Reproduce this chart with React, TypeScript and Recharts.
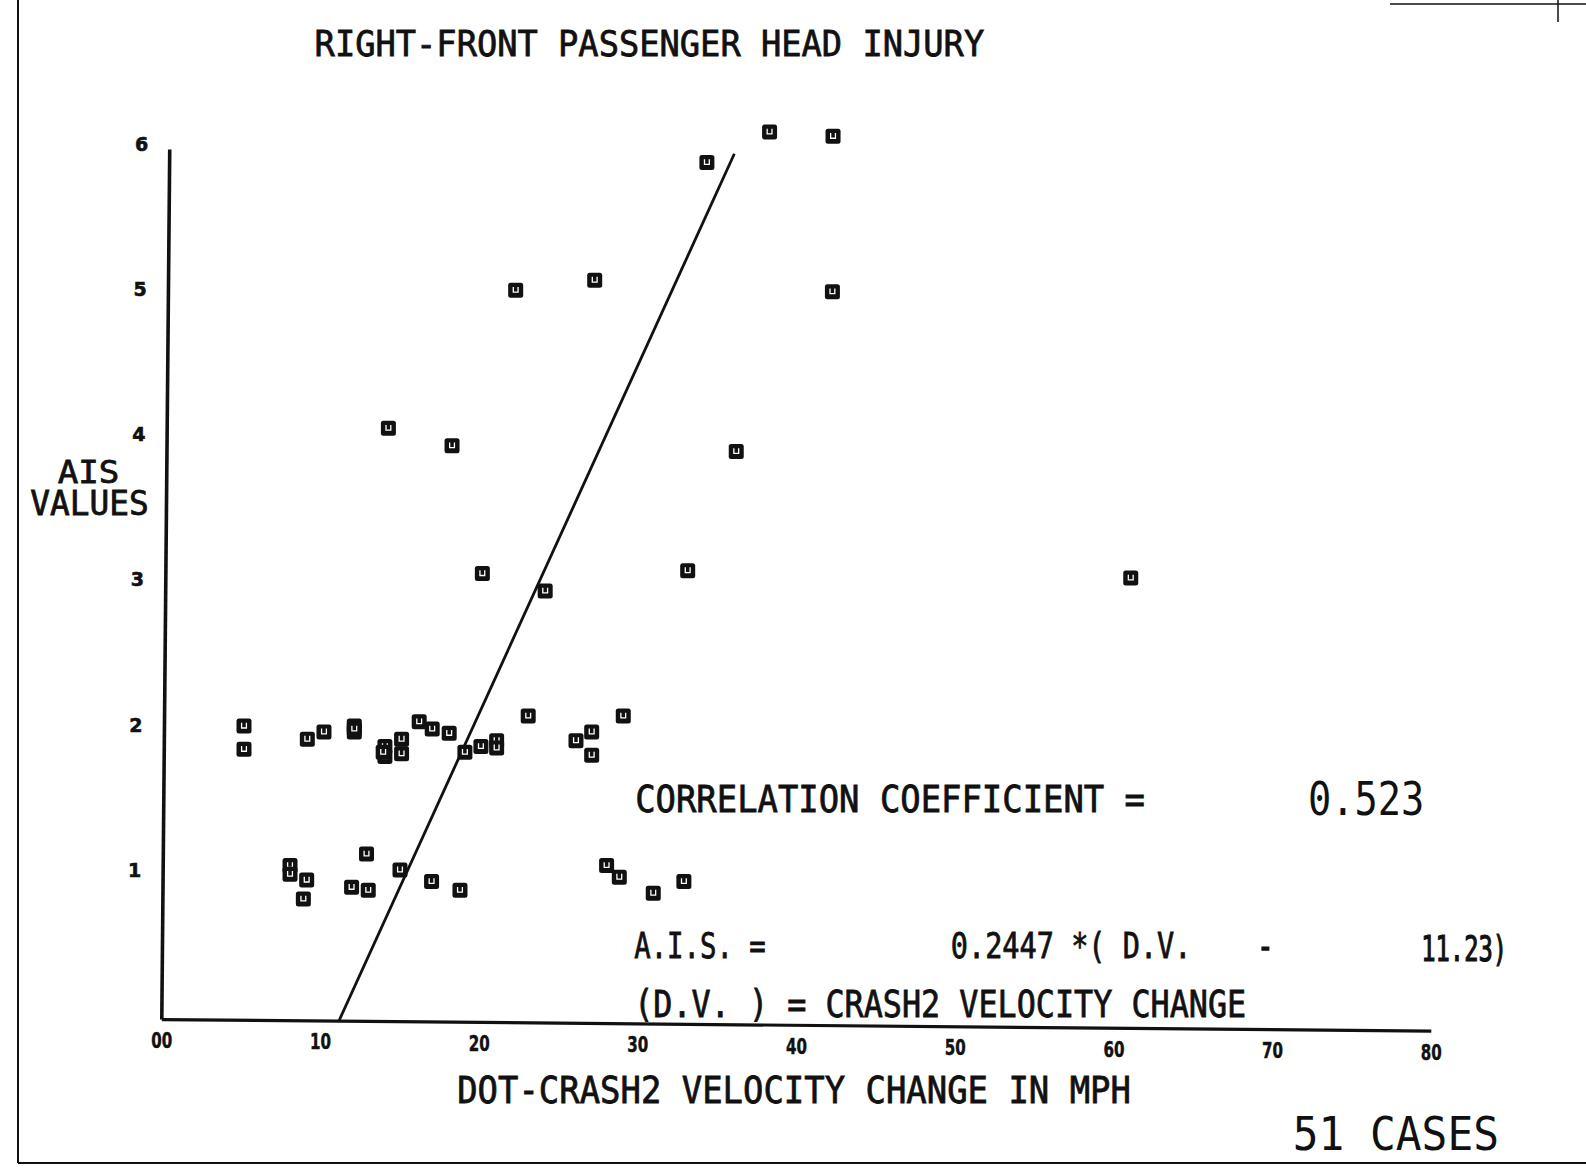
import { ScatterChart, Scatter, XAxis, YAxis, ReferenceLine } from 'recharts';

// velocity change (mph) and AIS value for each case
const velocityChange = [
  38.3, 42.3, 34.35, 22.3, 27.28, 42.26, 14.28, 18.29, 36.2, 20.2, 24.16, 33.14, 61.06,
  5.18, 5.18, 9.17, 10.22, 12.13, 12.13, 12.13, 14.06, 14.06, 13.95, 15.11, 15.11, 16.22,
  17.04, 18.11, 19.1, 20.11, 21.1, 21.1, 23.09, 26.1, 27.09, 27.09, 29.08,
  8.08, 8.08, 9.13, 8.92, 12.9, 11.96, 13.01, 15.01, 17.0, 18.79, 28.03, 28.83, 30.97, 32.9,
];
const aisValues = [
  6.08, 6.05, 5.87, 4.99, 5.06, 4.98, 4.04, 3.92, 3.88, 3.04, 2.92, 3.06, 3.01,
  1.99, 1.83, 1.9, 1.95, 1.99, 1.95, 1.97, 1.85, 1.78, 1.81, 1.9, 1.8, 2.02,
  1.97, 1.94, 1.81, 1.85, 1.89, 1.84, 2.06, 1.89, 1.95, 1.79, 2.06,
  1.03, 0.97, 0.93, 0.8, 1.11, 0.88, 0.86, 1.0, 0.92, 0.86, 1.03, 0.95, 0.84, 0.92,
];

// regression line ends and axis lines as drawn
const fitDv = [11.16, 36.08];
const fitAis = [-0.04, 5.93];
const yAxisDv = [0, 0.5];
const yAxisAis = [-0.03, 5.96];
const xAxisDv = [0, 80];
const xAxisAis = [-0.03, -0.11];

const xTicks = [0, 10, 20, 30, 40, 50, 60, 70, 80];
const xTickLabels = ['00', '10', '20', '30', '40', '50', '60', '70', '80'];
const yTicks = [1, 2, 3, 4, 5, 6];

const points = velocityChange.map((x, i) => ({ x, y: aisValues[i] }));

const INK = '#111';
const PLOT_FONT = '"DejaVu Sans Mono", monospace';

const Marker = (props: any) => {
  const { cx, cy } = props;
  if (cx == null || cy == null) return null;
  return (
    <g transform={`translate(${cx},${cy})`}>
      <rect x={-7.5} y={-7.5} width={15} height={15} rx={2.5} fill={INK} />
      <path d="M-2.4,-3.3 V1.9 H2.4 V-3.3" fill="none" stroke="#fff" strokeWidth={1.3} />
    </g>
  );
};

const XTick = (props: any) => {
  const { x, y, payload } = props;
  const v = payload.value as number;
  const label = xTickLabels[xTicks.indexOf(v)] ?? String(v);
  return (
    <text
      x={x}
      y={y + 15.4 + v * 0.146}
      textAnchor="middle"
      fontFamily='"DejaVu Sans", sans-serif'
      fontWeight="bold"
      fontSize={22}
      textLength={21}
      lengthAdjust="spacingAndGlyphs"
      fill={INK}
      stroke={INK}
      strokeWidth={0.5}
    >
      {label}
    </text>
  );
};

const YTick = (props: any) => {
  const { x, y, payload } = props;
  const v = payload.value as number;
  return (
    <text
      x={x - 27.3 + (v - 1) * 1.42}
      y={y + 7}
      textAnchor="middle"
      fontFamily='"DejaVu Sans", sans-serif'
      fontWeight="bold"
      fontSize={19}
      fill={INK}
      stroke={INK}
      strokeWidth={0.6}
    >
      {v}
    </text>
  );
};

const Label = ({ x, y, w, fs, children, weight = 0.8 }: any) => (
  <text
    x={x}
    y={y}
    textLength={w}
    lengthAdjust="spacingAndGlyphs"
    fontFamily={PLOT_FONT}
    fontSize={fs}
    fill={INK}
    stroke={INK}
    strokeWidth={weight}
  >
    {children}
  </text>
);

const App = () => {
  return (
    <div style={{ position: 'relative', width: 1586, height: 1172, background: '#fff' }}>
      <style>{'body{margin:0}'}</style>
      <ScatterChart
        width={1586}
        height={1172}
        margin={{ top: 85.5, right: 154.7, bottom: 109.4, left: 121.8 }}
      >
        <XAxis
          type="number"
          dataKey="x"
          domain={[0, 80]}
          ticks={xTicks}
          axisLine={false}
          tickLine={false}
          tickSize={0}
          tickMargin={0}
          height={30}
          tick={<XTick />}
          allowDataOverflow
        />
        <YAxis
          type="number"
          dataKey="y"
          domain={[-0.12, 6.4]}
          ticks={yTicks}
          axisLine={false}
          tickLine={false}
          tickSize={0}
          tickMargin={0}
          width={40}
          tick={<YTick />}
          allowDataOverflow
        />
        <ReferenceLine
          segment={[{ x: xAxisDv[0], y: xAxisAis[0] }, { x: xAxisDv[1], y: xAxisAis[1] }]}
          stroke={INK}
          strokeWidth={3.2}
          ifOverflow="visible"
        />
        <ReferenceLine
          segment={[{ x: yAxisDv[0], y: yAxisAis[0] }, { x: yAxisDv[1], y: yAxisAis[1] }]}
          stroke={INK}
          strokeWidth={3.6}
          ifOverflow="visible"
        />
        <ReferenceLine
          segment={[{ x: fitDv[0], y: fitAis[0] }, { x: fitDv[1], y: fitAis[1] }]}
          stroke={INK}
          strokeWidth={2.8}
          ifOverflow="visible"
        />
        <Scatter data={points} shape={<Marker />} isAnimationActive={false} />
      </ScatterChart>

      {/* plotter text and page frame */}
      <svg
        width={1586}
        height={1172}
        style={{ position: 'absolute', left: 0, top: 0, pointerEvents: 'none' }}
      >
        <line x1={18} y1={0} x2={18} y2={1163} stroke={INK} strokeWidth={2} />
        <line x1={18} y1={1163} x2={1586} y2={1163} stroke={INK} strokeWidth={2} />
        <line x1={1390} y1={4} x2={1586} y2={4} stroke={INK} strokeWidth={1.5} />
        <line x1={1558} y1={0} x2={1558} y2={22} stroke={INK} strokeWidth={1.5} />

        <Label x={314.6} y={55.6} w={669.6} fs={36}>RIGHT-FRONT PASSENGER HEAD INJURY</Label>
        <Label x={57.7} y={483} w={61.7} fs={32}>AIS</Label>
        <Label x={30.3} y={514.9} w={118.4} fs={33}>VALUES</Label>
        <Label x={635.2} y={812.2} w={509.8} fs={37}>CORRELATION COEFFICIENT =</Label>
        <Label x={1307.9} y={815.3} w={116.3} fs={47} weight={0}>0.523</Label>
        <Label x={634.2} y={957.9} w={131.5} fs={35}>A.I.S. =</Label>
        <Label x={950.8} y={957.9} w={240.7} fs={35}>0.2447 *( D.V.</Label>
        <Label x={1257.3} y={957.9} w={16.2} fs={35} weight={1.4}>-</Label>
        <Label x={1421.2} y={960.9} w={85.9} fs={35} weight={1.2}>11.23)</Label>
        <Label x={634.2} y={1016.6} w={612} fs={37}>(D.V. ) = CRASH2 VELOCITY CHANGE</Label>
        <Label x={457.2} y={1102.5} w={673.7} fs={37}>DOT-CRASH2 VELOCITY CHANGE IN MPH</Label>
        <Label x={1292.7} y={1150.1} w={206.3} fs={47} weight={0}>51 CASES</Label>
      </svg>
    </div>
  );
};

export default App;
